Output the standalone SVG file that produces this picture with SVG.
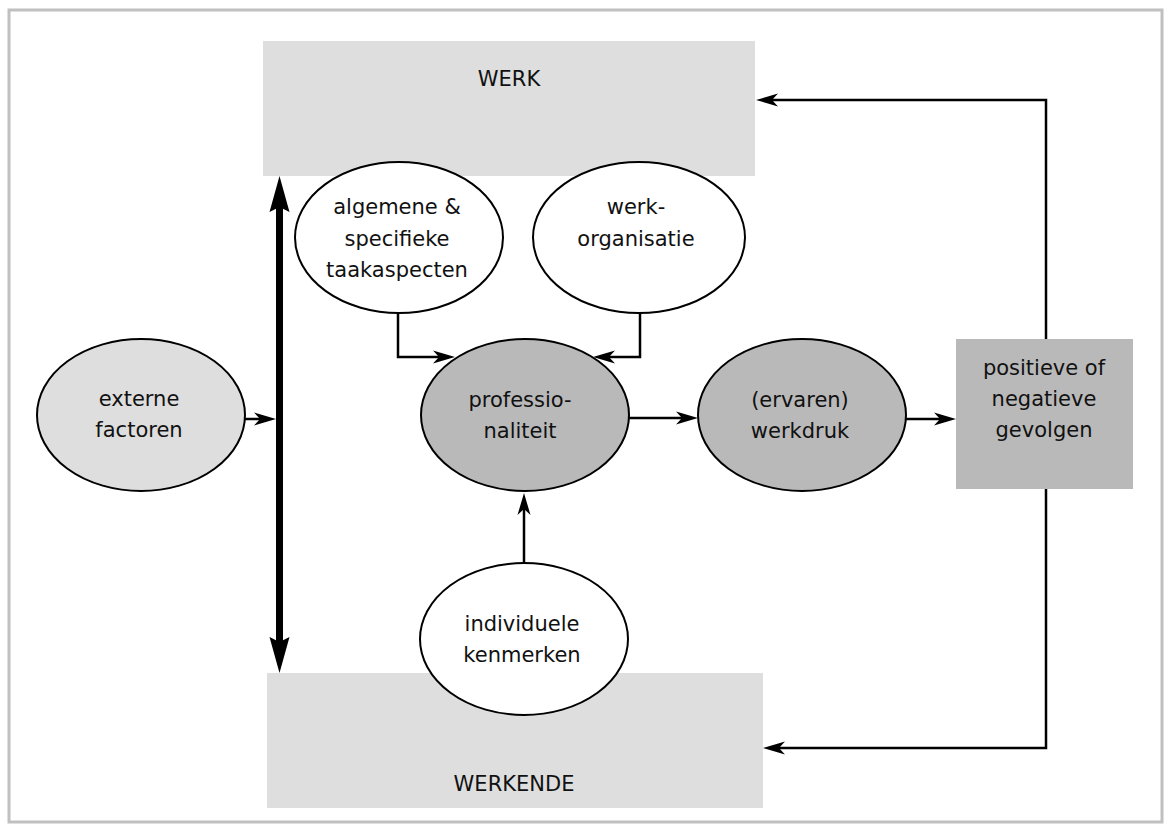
<svg xmlns="http://www.w3.org/2000/svg" width="1166" height="832" viewBox="0 0 1166 832">
<defs>
<style>
.t{font-family:"DejaVu Sans","Liberation Sans",sans-serif;font-size:21px;fill:#111;text-anchor:middle}
.e{stroke:#000;stroke-width:2}
.c{fill:none;stroke:#000;stroke-width:2.5}
.light{fill:#dedede}
.dark{fill:#b9b9b9}
</style>
<marker id="arr" markerUnits="userSpaceOnUse" markerWidth="30" markerHeight="20" viewBox="-15 -10 30 20" refX="0" refY="0" orient="auto">
<path d="M10,0 L-12,-6.5 L-6,0 L-12,6.5 Z" fill="#000"/>
</marker>
</defs>
<rect x="9" y="10" width="1153" height="812" fill="#fff" stroke="#c0c0c0" stroke-width="3"/>

<g id="werk">
<rect x="263" y="41" width="492" height="135" class="light"/>
<text class="t" x="509" y="86">WERK</text>
</g>
<g id="werkende">
<rect x="267" y="673" width="496" height="135" class="light"/>
<text class="t" x="514" y="791">WERKENDE</text>
</g>

<g id="algemene">
<ellipse cx="399" cy="237.5" rx="104" ry="75.5" fill="#fff" class="e"/>
<text class="t" x="397" y="214">algemene &amp;</text>
<text class="t" x="397" y="246">specifieke</text>
<text class="t" x="397" y="277">taakaspecten</text>
</g>
<g id="werkorganisatie">
<ellipse cx="639" cy="237.5" rx="106" ry="75.5" fill="#fff" class="e"/>
<text class="t" x="636" y="214">werk-</text>
<text class="t" x="636" y="246">organisatie</text>
</g>
<g id="externe">
<ellipse cx="141" cy="415" rx="104" ry="76" class="light e"/>
<text class="t" x="139" y="406">externe</text>
<text class="t" x="139" y="437">factoren</text>
</g>
<g id="professionaliteit">
<ellipse cx="525" cy="415" rx="104" ry="76" class="dark e"/>
<text class="t" x="520" y="407">professio-</text>
<text class="t" x="520" y="438">naliteit</text>
</g>
<g id="werkdruk">
<ellipse cx="802" cy="415" rx="104" ry="76" class="dark e"/>
<text class="t" x="800" y="407">(ervaren)</text>
<text class="t" x="800" y="438">werkdruk</text>
</g>
<g id="gevolgen">
<rect x="956" y="339" width="177" height="150" class="dark"/>
<text class="t" x="1044" y="375">positieve of</text>
<text class="t" x="1044" y="406">negatieve</text>
<text class="t" x="1044" y="437">gevolgen</text>
</g>
<g id="individuele">
<ellipse cx="524" cy="639" rx="104" ry="76" fill="#fff" class="e"/>
<text class="t" x="522" y="631">individuele</text>
<text class="t" x="522" y="662">kenmerken</text>
</g>

<g id="connectors">
<line x1="279.5" y1="205" x2="279.5" y2="644" stroke="#000" stroke-width="7"/>
<polygon points="279.5,176 269.5,212 279.5,207 289.5,212" fill="#000"/>
<polygon points="279.5,673 269.5,637 279.5,642 289.5,637" fill="#000"/>
<path class="c" d="M245,419 H266" marker-end="url(#arr)"/>
<path class="c" d="M398,313 V357 H445" marker-end="url(#arr)"/>
<path class="c" d="M640,313 V357 H603" marker-end="url(#arr)"/>
<path class="c" d="M629,418 H688" marker-end="url(#arr)"/>
<path class="c" d="M905,419 H946" marker-end="url(#arr)"/>
<path class="c" d="M524,563 V503" marker-end="url(#arr)"/>
<path class="c" d="M1046,339 V100 H766" marker-end="url(#arr)"/>
<path class="c" d="M1046,489 V748 H773" marker-end="url(#arr)"/>
</g>
</svg>
